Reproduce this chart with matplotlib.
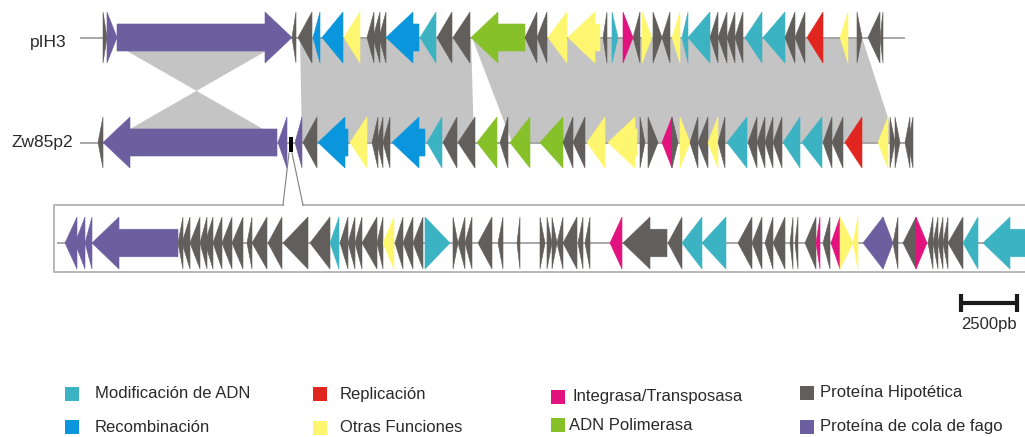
import matplotlib
matplotlib.use("Agg")
import matplotlib.pyplot as plt
from matplotlib.patches import Polygon, Rectangle

plt.rcParams['font.family'] = ['Liberation Sans', 'DejaVu Sans']

# Functional categories and their colours
CATEGORIES = ['mod', 'rec', 'rep', 'oth', 'int', 'pol', 'hyp', 'tail']
COLORS = {
    'mod': '#3bb3c3', 'rec': '#0a96dc', 'rep': '#e0261e', 'oth': '#fff66f',
    'int': '#e2127f', 'pol': '#86c12a', 'hyp': '#625e5c', 'tail': '#6c5fa0',
}
LEGEND_LABELS = {
    'mod': 'Modificación de ADN', 'rec': 'Recombinación', 'rep': 'Replicación',
    'oth': 'Otras Funciones', 'int': 'Integrasa/Transposasa', 'pol': 'ADN Polimerasa',
    'hyp': 'Proteína Hipotética', 'tail': 'Proteína de cola de fago',
}

# Gene maps in map units (56 units = 2500 pb): (start, end, strand, category)
PIH3_GENES = [
    (103, 107, 1, 'hyp'), (107, 117, 1, 'tail'), (117, 292, 1, 'tail'),
    (292, 296, -1, 'hyp'), (298, 312, -1, 'hyp'), (313, 320, -1, 'rec'),
    (322, 343, -1, 'rec'), (344, 360, -1, 'oth'), (367, 374, -1, 'hyp'),
    (373, 380, -1, 'hyp'), (379, 386, -1, 'hyp'), (386, 419, -1, 'rec'),
    (420, 436, -1, 'mod'), (437, 452, -1, 'hyp'), (453, 470, -1, 'hyp'),
    (471, 525, -1, 'pol'), (525, 537, -1, 'hyp'), (537, 547, -1, 'hyp'),
    (548, 567, -1, 'oth'), (568, 600, -1, 'oth'), (603, 607, -1, 'hyp'),
    (612, 618, 1, 'mod'), (623, 633, 1, 'int'), (633, 640, -1, 'hyp'),
    (642, 652, 1, 'oth'), (653, 662, 1, 'hyp'), (662, 670, -1, 'hyp'),
    (672, 680, -1, 'oth'), (682, 688, -1, 'mod'), (688, 710, -1, 'mod'),
    (710, 718, -1, 'hyp'), (718, 727, -1, 'hyp'), (727, 735, -1, 'hyp'),
    (735, 743, -1, 'hyp'), (745, 762, -1, 'mod'), (763, 785, -1, 'mod'),
    (785, 795, -1, 'hyp'), (795, 805, -1, 'hyp'), (807, 823, -1, 'rep'),
    (840, 848, -1, 'oth'), (857, 862, 1, 'hyp'), (868, 880, -1, 'hyp'),
    (880, 883, -1, 'hyp'),
]
PIH3_SPAN = (80, 905)

ZW85P2_GENES = [
    (98, 103, -1, 'hyp'), (103, 277, -1, 'tail'), (278, 287, -1, 'tail'),
    (295, 302, -1, 'tail'), (303, 317, -1, 'hyp'), (318, 348, -1, 'rec'),
    (350, 367, -1, 'oth'), (372, 378, -1, 'hyp'), (377, 383, -1, 'hyp'),
    (383, 390, -1, 'hyp'), (392, 425, -1, 'rec'), (427, 442, -1, 'mod'),
    (443, 457, -1, 'hyp'), (458, 475, -1, 'hyp'), (477, 497, -1, 'pol'),
    (500, 508, -1, 'hyp'), (510, 530, -1, 'pol'), (540, 563, -1, 'pol'),
    (563, 573, -1, 'hyp'), (573, 585, -1, 'hyp'), (587, 605, -1, 'oth'),
    (608, 637, -1, 'oth'), (640, 645, 1, 'hyp'), (648, 658, 1, 'hyp'),
    (662, 672, -1, 'int'), (672, 678, 1, 'hyp'), (680, 690, 1, 'oth'),
    (690, 698, -1, 'hyp'), (698, 708, -1, 'hyp'), (708, 718, -1, 'oth'),
    (718, 725, -1, 'hyp'), (727, 747, -1, 'mod'), (748, 757, -1, 'hyp'),
    (757, 765, -1, 'hyp'), (765, 773, -1, 'hyp'), (773, 782, -1, 'hyp'),
    (783, 800, -1, 'mod'), (802, 822, -1, 'mod'), (823, 832, -1, 'hyp'),
    (832, 843, -1, 'hyp'), (845, 862, -1, 'rep'), (878, 888, -1, 'oth'),
    (890, 895, 1, 'hyp'), (895, 900, 1, 'hyp'), (905, 910, -1, 'hyp'),
    (908, 913, -1, 'hyp'),
]
ZW85P2_SPAN = (80, 913)

# Expanded view of the small insertion region of Zw85p2
INSERT_GENES = [
    (65, 77, -1, 'tail'), (75, 85, -1, 'tail'), (85, 92, -1, 'tail'),
    (92, 178, -1, 'tail'), (178, 183, -1, 'hyp'), (182, 190, -1, 'hyp'),
    (190, 200, -1, 'hyp'), (200, 207, -1, 'hyp'), (205, 213, -1, 'hyp'),
    (213, 222, -1, 'hyp'), (222, 232, -1, 'hyp'), (232, 243, -1, 'hyp'),
    (247, 252, -1, 'hyp'), (252, 267, -1, 'hyp'), (268, 282, -1, 'hyp'),
    (283, 308, -1, 'hyp'), (310, 330, -1, 'hyp'), (330, 339, -1, 'mod'),
    (340, 348, -1, 'hyp'), (348, 355, -1, 'hyp'), (355, 362, -1, 'hyp'),
    (362, 377, -1, 'hyp'), (377, 383, -1, 'hyp'), (383, 394, -1, 'oth'),
    (395, 403, -1, 'hyp'), (403, 413, -1, 'hyp'), (413, 423, -1, 'hyp'),
    (425, 450, 1, 'mod'), (453, 458, 1, 'hyp'), (458, 465, -1, 'hyp'),
    (465, 472, -1, 'hyp'), (478, 492, -1, 'hyp'), (498, 503, -1, 'hyp'),
    (517, 520, -1, 'hyp'), (540, 545, 1, 'hyp'), (547, 552, 1, 'hyp'),
    (552, 557, 1, 'hyp'), (557, 563, -1, 'hyp'), (563, 577, -1, 'hyp'),
    (578, 583, -1, 'hyp'), (585, 590, -1, 'hyp'), (610, 622, -1, 'int'),
    (623, 667, -1, 'hyp'), (668, 682, -1, 'hyp'), (682, 702, -1, 'mod'),
    (702, 726, -1, 'mod'), (738, 752, -1, 'hyp'), (752, 762, -1, 'hyp'),
    (765, 773, -1, 'hyp'), (773, 785, -1, 'hyp'), (790, 793, -1, 'hyp'),
    (795, 798, -1, 'hyp'), (805, 816, -1, 'hyp'), (816, 820, -1, 'int'),
    (823, 830, -1, 'hyp'), (831, 840, -1, 'int'), (840, 853, 1, 'oth'),
    (853, 858, -1, 'oth'), (863, 883, -1, 'tail'), (883, 893, 1, 'tail'),
    (893, 898, -1, 'hyp'), (903, 916, -1, 'hyp'), (916, 927, 1, 'int'),
    (928, 933, -1, 'hyp'), (933, 938, -1, 'hyp'), (938, 943, -1, 'hyp'),
    (943, 948, -1, 'hyp'), (948, 963, -1, 'hyp'), (963, 978, -1, 'mod'),
    (983, 1040, -1, 'mod'),
]
INSERT_SPAN = (57, 1040)

# Syntenic blocks between the two plasmids: (top_start, top_end, bottom_start, bottom_end)
SYNTENY = [
    (300, 471, 302, 474),
    (472, 862, 512, 896),
]
INVERTED = (127, 266, 130, 263)

SCALE_BP = 2500
SCALE_UNITS = 56

TRACK_Y = {'pIH3': 37.5, 'Zw85p2': 142.5, 'insert': 243}
GENE_H = 51
HEAD = 27
BODY_FRAC = 0.53
TEXT_C = '#2a2a2a'


def gene_shape(x0, x1, strand, yc, h):
    half = h / 2
    bh = h * BODY_FRAC / 2
    length = x1 - x0
    if length <= HEAD * 1.05:
        if strand > 0:
            return [(x0, yc - half), (x1, yc), (x0, yc + half)]
        return [(x1, yc - half), (x0, yc), (x1, yc + half)]
    if strand > 0:
        xh = x1 - HEAD
        return [(x0, yc - bh), (xh, yc - bh), (xh, yc - half), (x1, yc),
                (xh, yc + half), (xh, yc + bh), (x0, yc + bh)]
    xh = x0 + HEAD
    return [(x1, yc - bh), (xh, yc - bh), (xh, yc - half), (x0, yc),
            (xh, yc + half), (xh, yc + bh), (x1, yc + bh)]


def draw_track(ax, genes, span, yc, h=GENE_H):
    ax.plot(span, [yc, yc], color='#a0a0a0', lw=1.3, zorder=2, solid_capstyle='butt')
    for x0, x1, strand, cat in genes:
        ax.add_patch(Polygon(gene_shape(x0, x1, strand, yc, h), closed=True,
                             facecolor=COLORS[cat], edgecolor=COLORS[cat],
                             lw=0.4, zorder=3))


fig = plt.figure(figsize=(10.25, 4.37), dpi=100)
ax = fig.add_axes([0, 0, 1, 1])
ax.set_xlim(0, 1025)
ax.set_ylim(437, 0)
ax.axis('off')

y1, y2, y3 = TRACK_Y['pIH3'], TRACK_Y['Zw85p2'], TRACK_Y['insert']
shade = '#c4c4c4'

# Synteny ribbons
for ts, te, bs, be in SYNTENY:
    ax.add_patch(Polygon([(ts, y1), (te, y1), (be, y2), (bs, y2)], closed=True,
                         facecolor=shade, edgecolor='none', zorder=1))
ts, te, bs, be = INVERTED
body_top = y1 + GENE_H * BODY_FRAC / 2
body_bot = y2 - GENE_H * BODY_FRAC / 2
ax.add_patch(Polygon([(ts, body_top), (te, body_top), (bs, body_bot), (be, body_bot)],
                     closed=True, facecolor=shade, edgecolor='none', zorder=1))

draw_track(ax, PIH3_GENES, PIH3_SPAN, y1)
draw_track(ax, ZW85P2_GENES, ZW85P2_SPAN, y2)

# Zoomed panel frame and connector lines
frame_c = '#b8b8b8'
box_l, box_t, box_b = 54, 205, 272
ax.plot([283, box_l, box_l, 1025], [box_t, box_t, box_b, box_b], color=frame_c, lw=1.4, zorder=2)
ax.plot([303, 1025], [box_t, box_t], color=frame_c, lw=1.4, zorder=2)
ax.plot([283, 289], [box_t, 153], color='#808080', lw=0.8, zorder=2)
ax.plot([303, 292], [box_t, 153], color='#808080', lw=0.8, zorder=2)
ax.add_patch(Rectangle((289, 137), 4, 15, facecolor='black', edgecolor='none', zorder=4))

draw_track(ax, INSERT_GENES, INSERT_SPAN, y3, h=52)

# Track labels
ax.text(30, 42, 'pIH3', fontsize=12.5, color=TEXT_C, ha='left', va='center')
ax.text(73, 143, 'Zw85p2', fontsize=12.5, color=TEXT_C, ha='right', va='center')

# Scale bar
sx0 = 961
ax.plot([sx0, sx0 + SCALE_UNITS], [303, 303], color='#1a1a1a', lw=3, solid_capstyle='butt')
for xx in (sx0, sx0 + SCALE_UNITS):
    ax.plot([xx, xx], [294, 312], color='#1a1a1a', lw=3, solid_capstyle='butt')
ax.text(sx0 + SCALE_UNITS / 2, 325, f'{SCALE_BP}pb', fontsize=12, color=TEXT_C,
        ha='center', va='center')

# Legend
legend_layout = [
    ('mod', 65, 394, 95), ('rec', 65, 427, 95),
    ('rep', 313, 394, 340), ('oth', 313, 428, 340),
    ('int', 551, 397, 572), ('pol', 551, 425, 569),
    ('hyp', 800, 393, 820), ('tail', 800, 427, 820),
]
for cat, sx, sy, tx in legend_layout:
    ax.add_patch(Rectangle((sx, sy - 7), 14, 14, facecolor=COLORS[cat], edgecolor='none'))
    ax.text(tx, sy, LEGEND_LABELS[cat], fontsize=12, color=TEXT_C, ha='left', va='center')

fig.savefig('out.png', dpi=100)
